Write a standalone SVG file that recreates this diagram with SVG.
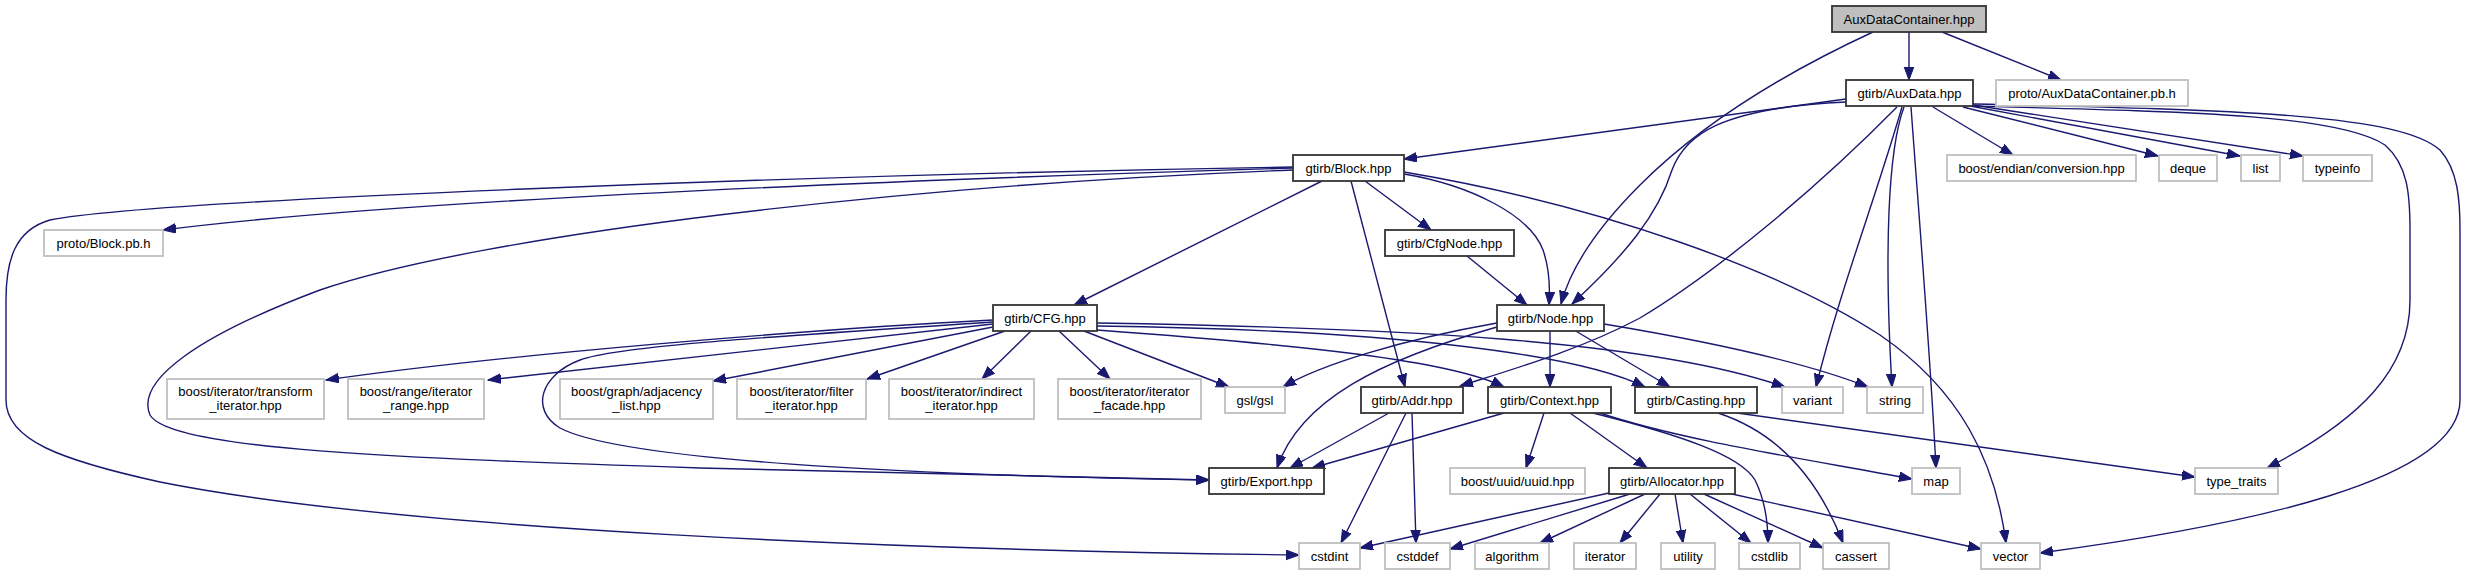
<svg xmlns="http://www.w3.org/2000/svg" width="2466" height="575" viewBox="0 0 2466 575">
<style>
.doc rect{fill:#ffffff;stroke:#333333;stroke-width:1.8}
.root rect{fill:#bfbfbf;stroke:#333333;stroke-width:1.8}
.ext rect{fill:#ffffff;stroke:#bfbfbf;stroke-width:1.8}
text{font-family:"Liberation Sans",Arial,sans-serif;font-size:13px;fill:#000000;text-anchor:middle}
#edges path{fill:none;stroke:#191970;stroke-width:1.4;marker-end:url(#ah)}
</style>
<defs>
<marker id="ah" markerUnits="userSpaceOnUse" markerWidth="14" markerHeight="11" refX="13" refY="5" orient="auto">
<path d="M0,0.2 L13,5 L0,9.8 z" fill="#191970" stroke="#191970" stroke-width="1"/>
</marker>
</defs>
<rect x="0" y="0" width="2466" height="575" fill="#ffffff"/>
<g id="edges">
<path d="M1909,32 L1909,80"/>
<path d="M1942,32 L2061,80"/>
<path d="M1873,32 C1780,75 1700,125 1640,185 C1595,230 1570,270 1561,304"/>
<path d="M1846,99 L1404,159"/>
<path d="M1846,102 C1720,108 1685,135 1672,170 C1658,215 1625,255 1572,304"/>
<path d="M1897,107 C1820,185 1720,270 1640,318 C1580,350 1510,370 1460,386"/>
<path d="M1902,107 C1875,200 1840,290 1816,387"/>
<path d="M1904,107 C1888,150 1884,250 1892,387"/>
<path d="M1911,107 C1920,230 1930,350 1936,468"/>
<path d="M1933,107 L2013,155"/>
<path d="M1963,107 L2158,156"/>
<path d="M1970,106 L2240,156"/>
<path d="M1973,105 L2303,156"/>
<path d="M1973,106 C2200,112 2340,115 2385,145 C2408,165 2410,195 2410,230 L2410,300 C2410,370 2360,420 2267,468"/>
<path d="M1973,104 C2250,110 2400,115 2440,150 C2458,170 2460,200 2460,230 L2460,400 C2460,480 2250,525 2040,553"/>
<path d="M1293,168 C900,180 400,200 163,230"/>
<path d="M1293,167 C800,175 150,200 50,220 C15,230 6,260 6,300 L6,400 C6,440 60,460 160,482 C400,530 900,550 1299,555"/>
<path d="M1293,170 C900,185 480,235 320,290 C200,335 135,380 150,415 C170,450 400,458 700,468 C900,474 1100,478 1209,480"/>
<path d="M1322,181 L1074,305"/>
<path d="M1351,181 L1405,387"/>
<path d="M1365,181 L1431,230"/>
<path d="M1404,174 C1470,185 1530,215 1543,250 C1550,270 1550,290 1549,305"/>
<path d="M1404,172 C1600,205 1780,270 1880,335 C1960,390 1995,460 2006,543"/>
<path d="M1467,256 L1527,305"/>
<path d="M993,320 C800,330 500,355 326,380"/>
<path d="M993,324 L488,380"/>
<path d="M993,322 C800,335 620,345 580,360 C540,375 530,410 560,428 C620,460 900,475 1209,480"/>
<path d="M993,327 L713,381"/>
<path d="M1005,331 L867,379"/>
<path d="M1031,331 L982,379"/>
<path d="M1059,331 L1110,379"/>
<path d="M1084,331 L1229,387"/>
<path d="M1097,323 C1400,328 1650,340 1785,387"/>
<path d="M1097,326 C1400,330 1580,355 1645,387"/>
<path d="M1097,330 C1300,345 1450,360 1504,387"/>
<path d="M1497,323 C1400,340 1320,365 1283,387"/>
<path d="M1497,327 C1380,360 1300,400 1277,468"/>
<path d="M1550,330 L1550,387"/>
<path d="M1574,330 L1670,387"/>
<path d="M1604,324 C1700,340 1800,360 1868,387"/>
<path d="M1389,413 L1290,468"/>
<path d="M1406,413 L1341,543"/>
<path d="M1412,413 L1416,543"/>
<path d="M1504,413 L1312,468"/>
<path d="M1544,413 L1526,468"/>
<path d="M1570,413 L1647,468"/>
<path d="M1593,413 C1680,435 1740,455 1755,480 C1765,500 1768,520 1768,543"/>
<path d="M1600,413 C1680,440 1800,458 1912,479"/>
<path d="M1737,413 L2195,477"/>
<path d="M1718,413 C1770,430 1815,470 1843,543"/>
<path d="M1609,493 L1360,548"/>
<path d="M1630,494 L1450,549"/>
<path d="M1645,494 L1540,543"/>
<path d="M1660,494 L1620,543"/>
<path d="M1675,494 L1683,543"/>
<path d="M1690,494 L1751,543"/>
<path d="M1704,494 L1823,548"/>
<path d="M1732,494 L1981,549"/>
</g>
<g id="n0" class="root"><rect x="1832" y="6" width="154" height="26"/><text x="1909" y="23.5">AuxDataContainer.hpp</text></g>
<g id="n1" class="doc"><rect x="1846" y="80" width="127" height="26"/><text x="1909.5" y="97.5">gtirb/AuxData.hpp</text></g>
<g id="n2" class="ext"><rect x="1996" y="80" width="192" height="26"/><text x="2092" y="97.5">proto/AuxDataContainer.pb.h</text></g>
<g id="n3" class="doc"><rect x="1293" y="155" width="111" height="26"/><text x="1348.5" y="172.5">gtirb/Block.hpp</text></g>
<g id="n4" class="ext"><rect x="1947" y="155" width="189" height="26"/><text x="2041.5" y="172.5">boost/endian/conversion.hpp</text></g>
<g id="n5" class="ext"><rect x="2159" y="155" width="58" height="26"/><text x="2188" y="172.5">deque</text></g>
<g id="n6" class="ext"><rect x="2241" y="155" width="39" height="26"/><text x="2260.5" y="172.5">list</text></g>
<g id="n7" class="ext"><rect x="2303" y="155" width="69" height="26"/><text x="2337.5" y="172.5">typeinfo</text></g>
<g id="n8" class="ext"><rect x="44" y="230" width="119" height="26"/><text x="103.5" y="247.5">proto/Block.pb.h</text></g>
<g id="n9" class="doc"><rect x="1385" y="230" width="129" height="26"/><text x="1449.5" y="247.5">gtirb/CfgNode.hpp</text></g>
<g id="n10" class="doc"><rect x="993" y="305" width="104" height="26"/><text x="1045" y="322.5">gtirb/CFG.hpp</text></g>
<g id="n11" class="doc"><rect x="1497" y="305" width="107" height="26"/><text x="1550.5" y="322.5">gtirb/Node.hpp</text></g>
<g id="n12" class="ext"><rect x="167" y="379" width="157" height="40"/><text x="245.5" y="396">boost/iterator/transform</text><text x="245.5" y="410">_iterator.hpp</text></g>
<g id="n13" class="ext"><rect x="348" y="379" width="136" height="40"/><text x="416" y="396">boost/range/iterator</text><text x="416" y="410">_range.hpp</text></g>
<g id="n14" class="ext"><rect x="560" y="379" width="153" height="40"/><text x="636.5" y="396">boost/graph/adjacency</text><text x="636.5" y="410">_list.hpp</text></g>
<g id="n15" class="ext"><rect x="737" y="379" width="129" height="40"/><text x="801.5" y="396">boost/iterator/filter</text><text x="801.5" y="410">_iterator.hpp</text></g>
<g id="n16" class="ext"><rect x="889" y="379" width="145" height="40"/><text x="961.5" y="396">boost/iterator/indirect</text><text x="961.5" y="410">_iterator.hpp</text></g>
<g id="n17" class="ext"><rect x="1058" y="379" width="143" height="40"/><text x="1129.5" y="396">boost/iterator/iterator</text><text x="1129.5" y="410">_facade.hpp</text></g>
<g id="n18" class="ext"><rect x="1225" y="387" width="60" height="26"/><text x="1255" y="404.5">gsl/gsl</text></g>
<g id="n19" class="doc"><rect x="1361" y="387" width="102" height="26"/><text x="1412" y="404.5">gtirb/Addr.hpp</text></g>
<g id="n20" class="doc"><rect x="1488" y="387" width="123" height="26"/><text x="1549.5" y="404.5">gtirb/Context.hpp</text></g>
<g id="n21" class="doc"><rect x="1635" y="387" width="122" height="26"/><text x="1696" y="404.5">gtirb/Casting.hpp</text></g>
<g id="n22" class="ext"><rect x="1782" y="387" width="61" height="26"/><text x="1812.5" y="404.5">variant</text></g>
<g id="n23" class="ext"><rect x="1867" y="387" width="56" height="26"/><text x="1895" y="404.5">string</text></g>
<g id="n24" class="doc"><rect x="1209" y="468" width="115" height="26"/><text x="1266.5" y="485.5">gtirb/Export.hpp</text></g>
<g id="n25" class="ext"><rect x="1450" y="468" width="135" height="26"/><text x="1517.5" y="485.5">boost/uuid/uuid.hpp</text></g>
<g id="n26" class="doc"><rect x="1609" y="468" width="126" height="26"/><text x="1672" y="485.5">gtirb/Allocator.hpp</text></g>
<g id="n27" class="ext"><rect x="1912" y="468" width="48" height="26"/><text x="1936" y="485.5">map</text></g>
<g id="n28" class="ext"><rect x="2195" y="468" width="83" height="26"/><text x="2236.5" y="485.5">type_traits</text></g>
<g id="n29" class="ext"><rect x="1299" y="543" width="61" height="26"/><text x="1329.5" y="560.5">cstdint</text></g>
<g id="n30" class="ext"><rect x="1385" y="543" width="65" height="26"/><text x="1417.5" y="560.5">cstddef</text></g>
<g id="n31" class="ext"><rect x="1475" y="543" width="74" height="26"/><text x="1512" y="560.5">algorithm</text></g>
<g id="n32" class="ext"><rect x="1574" y="543" width="62" height="26"/><text x="1605" y="560.5">iterator</text></g>
<g id="n33" class="ext"><rect x="1661" y="543" width="54" height="26"/><text x="1688" y="560.5">utility</text></g>
<g id="n34" class="ext"><rect x="1739" y="543" width="61" height="26"/><text x="1769.5" y="560.5">cstdlib</text></g>
<g id="n35" class="ext"><rect x="1823" y="543" width="66" height="26"/><text x="1856" y="560.5">cassert</text></g>
<g id="n36" class="ext"><rect x="1981" y="543" width="59" height="26"/><text x="2010.5" y="560.5">vector</text></g>
</svg>
